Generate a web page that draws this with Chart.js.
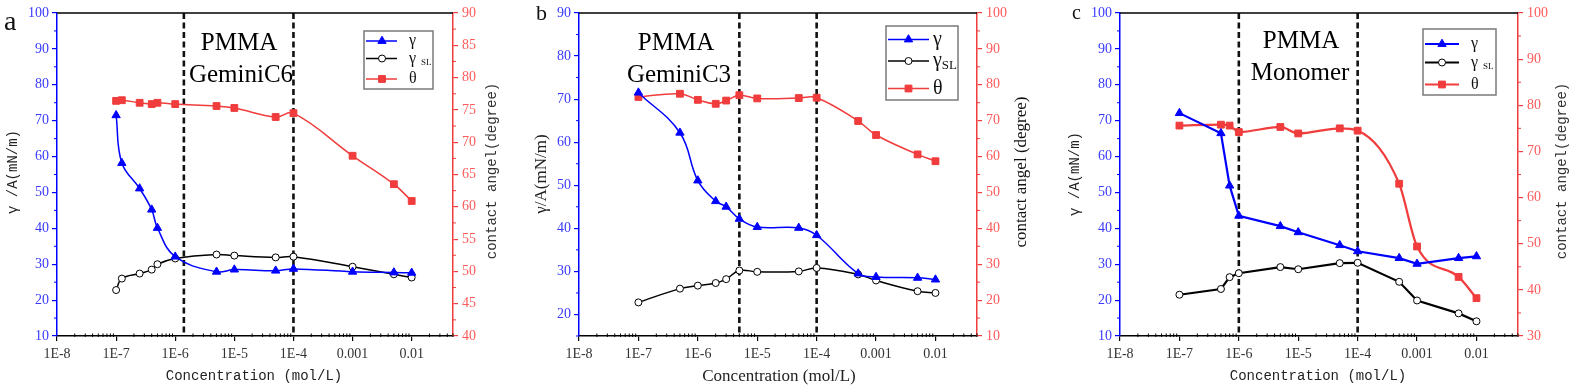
<!DOCTYPE html>
<html lang="en">
<head>
<meta charset="UTF-8">
<script src="https://cdn.jsdelivr.net/npm/chart.js"></script>
<title>PMMA surface tension and contact angle</title>
<style>
  body { margin: 0; background: #fff; width: 1577px; height: 389px; position: relative; overflow: hidden; }
  .panel { position: absolute; top: 0; height: 389px; }
</style>
</head>
<body>
<div class="panel" style="left:0"><canvas id="chartA" width="525" height="389"></canvas></div>
<div class="panel" style="left:525px"><canvas id="chartB" width="525" height="389"></canvas></div>
<div class="panel" style="left:1050px"><canvas id="chartC" width="527" height="389"></canvas></div>

<script>
// x axis (mol/L, log)
const xTickLabels = ['1E-8', '1E-7', '1E-6', '1E-5', '1E-4', '0.001', '0.01'];

// a: PMMA / GeminiC6
const concA    = [1e-7, 1.25e-7, 2.5e-7, 4e-7, 5e-7, 1e-6, 5e-6, 1e-5, 5e-5, 1e-4, 1e-3, 5e-3, 1e-2];
const gammaA   = [71.5, 58.2, 51.1, 45.2, 40.1, 32.1, 27.9, 28.5, 28.2, 28.7, 27.9, 27.7, 27.6];
const gammaSLA = [22.8, 26.0, 27.4, 28.5, 30.0, 31.6, 32.7, 32.4, 31.9, 32.1, 29.3, 27.2, 26.3];
const thetaA   = [76.4, 76.5, 76.1, 75.9, 76.1, 75.9, 75.6, 75.3, 73.9, 74.5, 67.9, 63.5, 60.9];
const cmcA     = [1.4e-6, 1e-4];

// b: PMMA / GeminiC3
const concB    = [1e-7, 5e-7, 1e-6, 2e-6, 3e-6, 5e-6, 1e-5, 5e-5, 1e-4, 5e-4, 1e-3, 5e-3, 1e-2];
const gammaB   = [71.5, 62.2, 51.1, 46.3, 45.0, 42.2, 40.3, 40.1, 38.4, 29.5, 28.7, 28.5, 28.1];
const gammaSLB = [22.8, 26.0, 26.7, 27.3, 28.2, 30.2, 29.9, 30.0, 30.8, 29.3, 27.9, 25.4, 25.0];
const thetaB   = [76.6, 77.5, 75.8, 74.7, 75.6, 77.1, 76.2, 76.3, 76.4, 69.9, 66.0, 60.6, 58.7];
const cmcB     = [5e-6, 1e-4];

// c: PMMA / Monomer
const concC    = [1e-7, 5e-7, 7e-7, 1e-6, 5e-6, 1e-5, 5e-5, 1e-4, 5e-4, 1e-3, 5e-3, 1e-2];
const gammaC   = [72.1, 66.5, 51.9, 43.5, 40.6, 38.9, 35.3, 33.6, 31.7, 30.1, 31.7, 32.2];
const gammaSLC = [21.5, 23.1, 26.4, 27.5, 29.2, 28.6, 30.3, 30.4, 25.1, 19.9, 16.3, 14.1];
const thetaC   = [75.6, 75.8, 75.6, 74.2, 75.3, 73.9, 75.0, 74.5, 63.0, 49.4, 42.8, 38.2];
const cmcC     = [1e-6, 1e-4];

const serif = '"Liberation Serif", "Times New Roman", serif';
const mono = '"Liberation Mono", "Courier New", monospace';
const BLUE = '#0000ff', RED = '#f03c3c';

function range(a, b, step) {
  const out = [];
  for (let v = a; v <= b + 1e-9; v += step) out.push(Math.round(v * 100) / 100);
  return out;
}

const panels = [
  {
    id: 'chartA', letter: 'a', letterFont: '28px ' + serif, letterPos: [4, 30],
    conc: concA, gamma: gammaA, gammaSL: gammaSLA, theta: thetaA, cmc: cmcA,
    left: { min: 10, max: 100, major: range(10, 100, 10), minor: 5 },
    right: { min: 40, max: 90, major: range(40, 90, 5), minor: 2.5 },
    box: { leftW: 57, rightW: 72, bottomH: 53, top: 13 },
    lineW: 1.5, straight: false,
    titleFont: '14px ' + mono, titles: ['γ /A(mN/m)', 'contact angel(degree)', 'Concentration (mol/L)'],
    titlePos: { left: [13, 172], right: [492, 171], x: [254, 376] }, rightTitleColor: '#333',
    notes: [['PMMA', 239, 50], ['GeminiC6', 241, 82]],
    legend: { x: 364, y: 31, w: 69, h: 58, rows: [41, 58.5, 79], x1: 366, x2: 397, mx: 382, tx: 409, font: 16, sub: 9, subGap: 5, subDy: 4 }
  },
  {
    id: 'chartB', letter: 'b', letterFont: '22px ' + serif, letterPos: [11, 20],
    conc: concB, gamma: gammaB, gammaSL: gammaSLB, theta: thetaB, cmc: cmcB,
    left: { min: 15, max: 90, major: range(20, 90, 10), minor: 5 },
    right: { min: 10, max: 100, major: range(10, 100, 10), minor: 5 },
    box: { leftW: 54, rightW: 73, bottomH: 53, top: 13 },
    lineW: 1.5, straight: false,
    titleFont: '17px ' + serif, titles: ['γ/A(mN/m)', 'contact angel (degree)', 'Concentration (mol/L)'],
    titlePos: { left: [17, 174], right: [497, 172], x: [254, 377] }, rightTitleColor: '#111',
    notes: [['PMMA', 151, 50], ['GeminiC3', 154, 82]],
    legend: { x: 361, y: 26, w: 72, h: 74, rows: [39.5, 61, 88.5], x1: 363, x2: 404, mx: 383.5, tx: 408, font: 20, sub: 13, subGap: 0, subDy: 5 }
  },
  {
    id: 'chartC', letter: 'c', letterFont: '20px ' + serif, letterPos: [22, 19],
    conc: concC, gamma: gammaC, gammaSL: gammaSLC, theta: thetaC, cmc: cmcC,
    left: { min: 10, max: 100, major: range(10, 100, 10), minor: 5 },
    right: { min: 30, max: 100, major: range(30, 100, 10), minor: 5 },
    box: { leftW: 70, rightW: 59, bottomH: 53, top: 13 },
    lineW: 2.2, straight: true,
    titleFont: '14px ' + mono, titles: ['γ /A(mN/m)', 'contact angel(degree)', 'Concentration (mol/L)'],
    titlePos: { left: [25, 174], right: [512, 171], x: [268, 376] }, rightTitleColor: '#333',
    notes: [['PMMA', 251, 48], ['Monomer', 250, 80]],
    legend: { x: 373, y: 29, w: 73, h: 66, rows: [44, 62.5, 84.5], x1: 375, x2: 409, mx: 392, tx: 421, font: 16, sub: 9, subGap: 5, subDy: 4 }
  }
];

const seriesStyle = [
  { key: 'gamma', label: 'γ', color: BLUE, fill: BLUE, pointStyle: 'triangle', radius: 4.8, axis: 'yL' },
  { key: 'gammaSL', label: 'γ', sub: 'SL', color: '#000', fill: '#fff', pointStyle: 'circle', radius: 3.5, axis: 'yL' },
  { key: 'theta', label: 'θ', color: RED, fill: RED, pointStyle: 'rect', radius: 4.8, axis: 'yR' }
];

const decorPlugin = {
  id: 'decor',
  beforeDatasetsDraw(chart) {
    const p = chart.config.options.panel;
    const ctx = chart.ctx;
    const area = chart.chartArea;
    const xs = chart.scales.x;
    ctx.save();
    // annotations
    ctx.fillStyle = '#000';
    ctx.font = '25px ' + serif;
    ctx.textAlign = 'center';
    ctx.textBaseline = 'alphabetic';
    p.notes.forEach(n => ctx.fillText(n[0], n[1], n[2]));
    // dashed marker lines
    ctx.strokeStyle = '#111';
    ctx.lineWidth = 2.6;
    ctx.setLineDash([6, 3.5]);
    p.cmc.forEach(c => {
      const px = xs.getPixelForValue(c);
      ctx.beginPath();
      ctx.moveTo(px, area.top);
      ctx.lineTo(px, area.bottom);
      ctx.stroke();
    });
    ctx.restore();
  },
  afterDraw(chart) {
    const p = chart.config.options.panel;
    const ctx = chart.ctx;
    const area = chart.chartArea;
    const xs = chart.scales.x, yl = chart.scales.yL, yr = chart.scales.yR;
    ctx.save();
    // top frame line
    ctx.strokeStyle = '#000';
    ctx.lineWidth = 1.5;
    ctx.beginPath();
    ctx.moveTo(area.left, area.top);
    ctx.lineTo(area.right, area.top);
    ctx.stroke();

    // minor ticks
    ctx.lineWidth = 1;
    ctx.strokeStyle = '#000';
    for (let e = -8; e <= -2; e++) {
      for (let k = 2; k <= 9; k++) {
        const v = k * Math.pow(10, e);
        if (v > xs.max) break;
        const px = xs.getPixelForValue(v);
        ctx.beginPath();
        ctx.moveTo(px, area.bottom - 2.5);
        ctx.lineTo(px, area.bottom + 1);
        ctx.stroke();
      }
    }
    ctx.strokeStyle = BLUE;
    range(p.left.min, p.left.max, p.left.minor).forEach(v => {
      if (p.left.major.includes(v)) return;
      const py = yl.getPixelForValue(v);
      ctx.beginPath();
      ctx.moveTo(area.left - 3, py);
      ctx.lineTo(area.left, py);
      ctx.stroke();
    });
    ctx.strokeStyle = RED;
    range(p.right.min, p.right.max, p.right.minor).forEach(v => {
      if (p.right.major.includes(v)) return;
      const py = yr.getPixelForValue(v);
      ctx.beginPath();
      ctx.moveTo(area.right, py);
      ctx.lineTo(area.right + 3, py);
      ctx.stroke();
    });

    // axis titles
    ctx.font = p.titleFont;
    ctx.textAlign = 'center';
    ctx.textBaseline = 'middle';
    ctx.fillStyle = '#222';
    ctx.fillText(p.titles[2], p.titlePos.x[0], p.titlePos.x[1]);
    [['left', p.titles[0], '#222'], ['right', p.titles[1], p.rightTitleColor]].forEach(t => {
      ctx.save();
      ctx.translate(p.titlePos[t[0]][0], p.titlePos[t[0]][1]);
      ctx.rotate(-Math.PI / 2);
      ctx.fillStyle = t[2];
      ctx.fillText(t[1], 0, 0);
      ctx.restore();
    });

    // panel letter
    ctx.font = p.letterFont;
    ctx.textAlign = 'left';
    ctx.textBaseline = 'alphabetic';
    ctx.fillStyle = '#111';
    ctx.fillText(p.letter, p.letterPos[0], p.letterPos[1]);

    // legend
    const L = p.legend;
    ctx.fillStyle = '#fff';
    ctx.fillRect(L.x, L.y, L.w, L.h);
    ctx.strokeStyle = '#7a7a7a';
    ctx.lineWidth = 1.5;
    ctx.strokeRect(L.x, L.y, L.w, L.h);
    seriesStyle.forEach((s, i) => {
      const y = L.rows[i];
      ctx.strokeStyle = s.color;
      ctx.lineWidth = p.lineW;
      ctx.beginPath();
      ctx.moveTo(L.x1, y);
      ctx.lineTo(L.x2, y);
      ctx.stroke();
      ctx.fillStyle = s.fill;
      ctx.lineWidth = 1;
      Chart.helpers.drawPoint(ctx, { pointStyle: s.pointStyle, radius: s.radius, borderWidth: 1, rotation: 0 }, L.mx, y);
      ctx.fillStyle = '#111';
      ctx.font = L.font + 'px ' + serif;
      ctx.textBaseline = 'middle';
      ctx.fillText(s.label, L.tx, y);
      if (s.sub) {
        const w = ctx.measureText(s.label).width;
        ctx.font = L.sub + 'px ' + serif;
        ctx.fillText(s.sub, L.tx + w + L.subGap, y + L.subDy);
      }
    });
    ctx.restore();
  }
};

function buildChart(p) {
  const datasets = seriesStyle.map(s => {
    const straightLine = p.straight && s.key !== 'theta';
    const monotone = p.straight && s.key === 'theta';
    return {
      label: s.sub ? s.label + s.sub : s.label,
      data: p.conc.map((c, i) => ({ x: c, y: p[s.key][i] })),
      yAxisID: s.axis,
      borderColor: s.color,
      backgroundColor: s.fill,
      pointBackgroundColor: s.fill,
      pointBorderColor: s.color,
      pointBorderWidth: 1,
      pointStyle: s.pointStyle,
      pointRadius: s.radius,
      borderWidth: p.lineW,
      cubicInterpolationMode: monotone ? 'monotone' : 'default',
      tension: straightLine ? 0 : 0.4
    };
  });

  const tickFont = { family: serif, size: 14 };

  new Chart(document.getElementById(p.id), {
    type: 'line',
    data: { datasets },
    options: {
      panel: p,
      responsive: false,
      animation: false,
      layout: { padding: { top: p.box.top, left: 0, right: 0, bottom: 0 } },
      plugins: { legend: { display: false }, tooltip: { enabled: false } },
      scales: {
        x: {
          type: 'logarithmic',
          min: 1e-8,
          max: 0.05,
          afterBuildTicks: s => { s.ticks = xTickLabels.map(t => ({ value: Number(t) })); },
          afterFit: s => { s.height = p.box.bottomH; },
          ticks: {
            callback: (v, i) => xTickLabels[i],
            autoSkip: false, maxRotation: 0, minRotation: 0,
            color: '#333', font: tickFont, padding: 5
          },
          grid: { drawOnChartArea: false, drawTicks: true, tickLength: 5, color: '#000', lineWidth: 1.2 },
          border: { color: '#000', width: 1.5 }
        },
        yL: {
          position: 'left',
          min: p.left.min, max: p.left.max,
          afterBuildTicks: s => { s.ticks = p.left.major.map(v => ({ value: v })); },
          afterFit: s => { s.width = p.box.leftW; },
          ticks: { color: '#3a3aff', font: tickFont, padding: 3 },
          grid: { drawOnChartArea: false, drawTicks: true, tickLength: 5, color: BLUE, lineWidth: 1.2 },
          border: { color: BLUE, width: 1.5 }
        },
        yR: {
          position: 'right',
          min: p.right.min, max: p.right.max,
          afterBuildTicks: s => { s.ticks = p.right.major.map(v => ({ value: v })); },
          afterFit: s => { s.width = p.box.rightW; },
          ticks: { color: '#ff5a5a', font: tickFont, padding: 4 },
          grid: { drawOnChartArea: false, drawTicks: true, tickLength: 5, color: RED, lineWidth: 1.2 },
          border: { color: RED, width: 1.5 }
        }
      }
    },
    plugins: [decorPlugin]
  });
}

panels.forEach(buildChart);
</script>
</body>
</html>
